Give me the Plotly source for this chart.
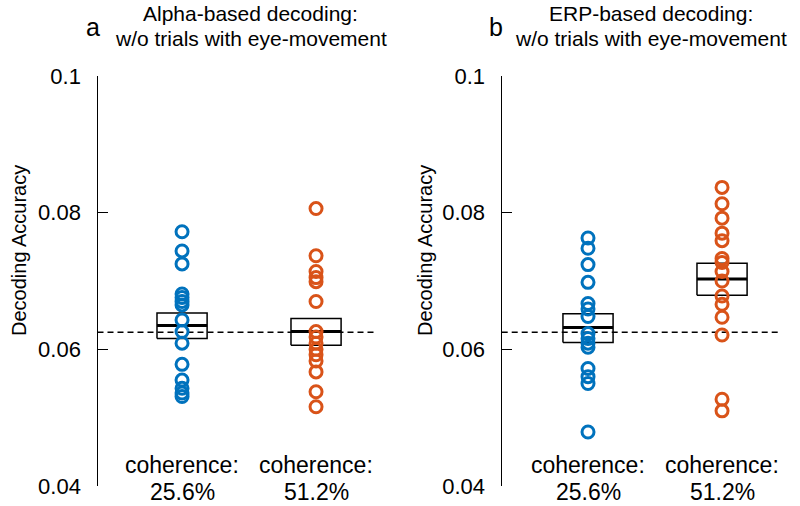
"""Decoding accuracy per coherence level, trials with eye-movement removed."""

import plotly.graph_objects as go

# chance level for 16 orientations
CHANCE = 0.0625

COLUMNS = [1, 2]
COL_LABELS = ["25.6%", "51.2%"]
COLORS = ["#0072BD", "#D95319"]

# panel a: alpha-based decoding
alpha_low = [0.0772, 0.0744, 0.0725, 0.0681, 0.0676, 0.0670, 0.0665, 0.0643,
             0.0626, 0.0609, 0.0578, 0.0555, 0.0543, 0.0536, 0.0531]
alpha_high = [0.0806, 0.0737, 0.0714, 0.0705, 0.0699, 0.0670, 0.0626, 0.0618,
              0.0609, 0.0600, 0.0592, 0.0583, 0.0567, 0.0538, 0.0516]
alpha_mean = [0.0635, 0.0626]
alpha_lo = [0.0616, 0.0606]
alpha_hi = [0.0653, 0.0645]

# panel b: ERP-based decoding
erp_low = [0.0763, 0.0748, 0.0724, 0.0698, 0.0667, 0.0659, 0.0648, 0.0623,
           0.0616, 0.0609, 0.0603, 0.0572, 0.0560, 0.0550, 0.0479]
erp_high = [0.0837, 0.0813, 0.0792, 0.0770, 0.0759, 0.0733, 0.0727, 0.0714,
            0.0700, 0.0678, 0.0666, 0.0647, 0.0621, 0.0527, 0.0510]
erp_mean = [0.0632, 0.0703]
erp_lo = [0.0610, 0.0679]
erp_hi = [0.0652, 0.0726]

Y_TICKS = [0.04, 0.06, 0.08, 0.1]
Y_TICKTEXT = ["0.04", "0.06", "0.08", "0.1"]

FONT = "Liberation Sans, Arial, Helvetica, sans-serif"
W, H = 800, 506
BOX_HALF = 0.187

panels = [
    {
        "letter": "a",
        "title": "Alpha-based decoding:",
        "groups": [alpha_low, alpha_high],
        "mean": alpha_mean, "lo": alpha_lo, "hi": alpha_hi,
        "xaxis": "x", "yaxis": "y",
        "domain": [97.5 / W, 375 / W], "range": [0.369, 2.44],
        "letter_x": 93, "title_x": 251, "ylab_x": 19,
    },
    {
        "letter": "b",
        "title": "ERP-based decoding:",
        "groups": [erp_low, erp_high],
        "mean": erp_mean, "lo": erp_lo, "hi": erp_hi,
        "xaxis": "x2", "yaxis": "y2",
        "domain": [501.7 / W, 779 / W], "range": [0.356, 2.425],
        "letter_x": 496, "title_x": 651, "ylab_x": 425,
    },
]

fig = go.Figure()
annotations = []


def py(px):
    """pixel row -> paper y"""
    return 1 - px / H


for i, p in enumerate(panels):
    xa, ya = p["xaxis"], p["yaxis"]

    # boxes (mean +/- sem) and mean line
    for c, m, lo, hi in zip(COLUMNS, p["mean"], p["lo"], p["hi"]):
        fig.add_trace(go.Scatter(
            x=[c - BOX_HALF, c + BOX_HALF, c + BOX_HALF, c - BOX_HALF, c - BOX_HALF],
            y=[lo, lo, hi, hi, lo],
            mode="lines", line={"color": "black", "width": 1.5},
            xaxis=xa, yaxis=ya, showlegend=False, hoverinfo="skip",
        ))
        fig.add_trace(go.Scatter(
            x=[c - BOX_HALF, c + BOX_HALF], y=[m, m],
            mode="lines", line={"color": "black", "width": 3},
            xaxis=xa, yaxis=ya, showlegend=False, hoverinfo="skip",
        ))

    # individual subjects
    for c, vals, col in zip(COLUMNS, p["groups"], COLORS):
        fig.add_trace(go.Scatter(
            x=[c] * len(vals), y=vals, mode="markers",
            marker={"symbol": "circle-open", "size": 12, "color": col,
                    "line": {"width": 3, "color": col}},
            xaxis=xa, yaxis=ya, showlegend=False,
        ))

    # chance line
    fig.add_shape(
        type="line", xref=f"{xa} domain", yref=ya,
        x0=0, x1=1, y0=CHANCE, y1=CHANCE,
        line={"color": "black", "width": 1.4, "dash": "6px,4px"},
        layer="below",
    )

    # titles
    annotations += [
        {"text": p["letter"], "x": p["letter_x"] / W, "y": py(27),
         "font": {"size": 25}},
        {"text": p["title"], "x": p["title_x"] / W, "y": py(14),
         "font": {"size": 21}},
        {"text": "w/o trials with eye-movement", "x": p["title_x"] / W, "y": py(38),
         "font": {"size": 21}},
        {"text": "Decoding Accuracy", "x": p["ylab_x"] / W, "y": py(251),
         "textangle": -90, "font": {"size": 20}},
    ]
    # column labels, two stacked lines meeting at row 478
    for c, lab in zip(COLUMNS, COL_LABELS):
        annotations += [
            {"text": "coherence:", "x": c, "xref": xa, "y": py(479),
             "yanchor": "bottom", "font": {"size": 23}},
            {"text": lab, "x": c, "xref": xa, "y": py(478),
             "yanchor": "top", "font": {"size": 23}},
        ]

for a in annotations:
    a.setdefault("xref", "paper")
    a.setdefault("yref", "paper")
    a.setdefault("yanchor", "middle")
    a.update(showarrow=False, xanchor="center", borderpad=0)
    a["font"] = {"family": FONT, "color": "black", **a["font"]}

yaxis_style = {
    "range": [0.04, 0.1],
    "domain": [py(486), py(76)],
    "tickvals": Y_TICKS,
    "ticktext": Y_TICKTEXT,
    "ticks": "inside",
    "ticklen": 10,
    "tickwidth": 1.4,
    "tickcolor": "black",
    "showline": True,
    "linecolor": "black",
    "linewidth": 1.4,
    "showgrid": False,
    "zeroline": False,
    "automargin": False,
    "ticklabelstandoff": 11,
    "tickfont": {"family": FONT, "size": 22, "color": "black"},
}
xaxis_style = {
    "showgrid": False,
    "zeroline": False,
    "showline": False,
    "showticklabels": False,
    "automargin": False,
    "ticks": "",
}

fig.update_layout(
    width=W,
    height=H,
    margin={"l": 0, "r": 0, "t": 0, "b": 0, "pad": 0},
    paper_bgcolor="white",
    plot_bgcolor="white",
    showlegend=False,
    font={"family": FONT, "color": "black"},
    annotations=annotations,
    xaxis={**xaxis_style, "domain": panels[0]["domain"], "range": panels[0]["range"]},
    xaxis2={**xaxis_style, "domain": panels[1]["domain"], "range": panels[1]["range"]},
    yaxis={**yaxis_style, "anchor": "x"},
    yaxis2={**yaxis_style, "anchor": "x2"},
)

fig.write_html(
    "out.html",
    config={"displayModeBar": False},
    post_script="document.body.style.margin = '0';",
)
